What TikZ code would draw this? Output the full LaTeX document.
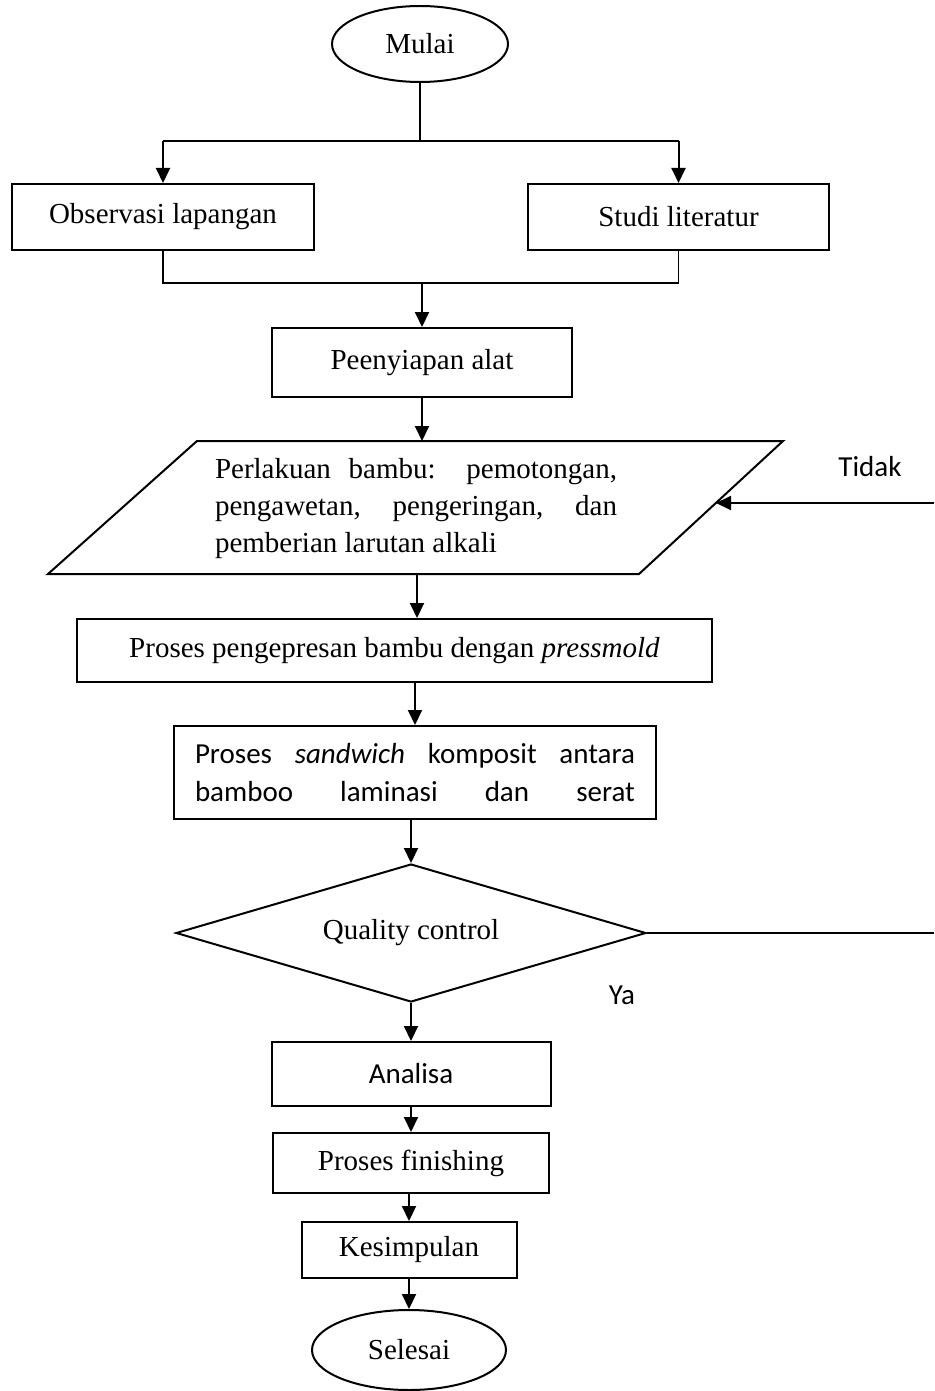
\documentclass[tikz,border=0pt]{standalone}
\usepackage{fontspec}
\setmainfont{Liberation Serif}
\newfontfamily\calib{Carlito}
\usetikzlibrary{shapes.geometric,arrows.meta}
\begin{document}
\begin{tikzpicture}[x=1pt,y=-1pt,
  every node/.style={font=\fontsize{29}{37}\selectfont},
  calfont/.style={font=\calib\fontsize{29}{38}\selectfont},
  procbox/.style={draw, rectangle, line width=2pt, inner sep=0pt},
  startend/.style={draw, ellipse, line width=2pt, inner sep=0pt},
  decision/.style={draw, diamond, line width=2pt, inner sep=0pt},
  flow/.style={line width=2pt, -{Triangle[length=15pt,width=14pt]}},
  joinline/.style={line width=1.1pt}]
\useasboundingbox (0,0) rectangle (934,1391);

% nodes
\node[startend, minimum width=176pt, minimum height=76pt] (mulai) at (420,44) {Mulai};
\node[procbox, minimum width=302pt, minimum height=66pt] (obs) at (163,217) {Observasi lapangan};
\node[procbox, minimum width=301pt, minimum height=66pt] (studi) at (678.5,217) {Studi literatur};
\node[procbox, minimum width=300pt, minimum height=69pt] (peen) at (422,362.5) {Peenyiapan alat};

\draw[line width=2pt] (48,574) -- (639,574) -- (783,441) -- (197,441) -- cycle;
\node[align=left, inner sep=0pt] (partext) at (416,509)
  {\makebox[402pt][s]{Perlakuan bambu: pemotongan,}\\
   \makebox[402pt][s]{pengawetan, pengeringan, dan}\\
   pemberian larutan alkali};
\coordinate (partop) at (422,441);
\coordinate (parbot) at (417,574);
\coordinate (parright) at (716,503);
\coordinate (tidakend) at (934,503);
\node[calfont] (tidak) at (870,467) {Tidak};

\node[procbox, minimum width=635pt, minimum height=63pt] (press) at (394.5,650.5)
  {Proses pengepresan bambu dengan \textit{pressmold}};
\node[procbox, calfont, align=left, minimum width=482.5pt, minimum height=93pt] (sand) at (415,772.5)
  {\makebox[440pt][s]{Proses \textit{sandwich} komposit antara}\\
   \makebox[440pt][s]{bamboo laminasi dan serat}};
\node[decision, shape aspect=3.4, minimum width=470pt, minimum height=138pt] (qc) at (411,933) {Quality control};
\coordinate (qcend) at (934,933);
\node[calfont] (ya) at (622,995) {Ya};

\node[procbox, calfont, minimum width=279pt, minimum height=64pt] (analisa) at (411,1074) {Analisa};
\node[procbox, minimum width=276pt, minimum height=60pt] (fin) at (411,1163) {Proses finishing};
\node[procbox, minimum width=215pt, minimum height=56pt] (kes) at (409,1250) {Kesimpulan};
\node[startend, minimum width=194pt, minimum height=80pt] (selesai) at (409,1350) {Selesai};

% connectors
\coordinate (split) at (420,141);
\coordinate (merge) at (422,283);
\draw[joinline] (mulai.south) -- (split);
\draw[joinline] (obs.north |- split) -- (studi.north |- split);
\draw[flow] (obs.north |- split) -- (obs.north);
\draw[flow] (studi.north |- split) -- (studi.north);
\draw[joinline] (obs.south) -- (obs.south |- merge) -- (studi.south |- merge) -- (studi.south);
\draw[flow] (merge) -- (peen.north);
\draw[flow] (peen.south) -- (partop);
\draw[flow] (tidakend) -- (parright);
\draw[flow] (parbot) -- (parbot |- press.north);
\draw[flow] (sand.north |- press.south) -- (sand.north);
\draw[flow] (qc.north |- sand.south) -- (qc.north);
\draw[joinline] (qc.east) -- (qcend);
\draw[flow] (qc.south) -- (analisa.north);
\draw[flow] (analisa.south) -- (fin.north);
\draw[flow] (kes.north |- fin.south) -- (kes.north);
\draw[flow] (kes.south) -- (selesai.north);
\end{tikzpicture}
\end{document}
